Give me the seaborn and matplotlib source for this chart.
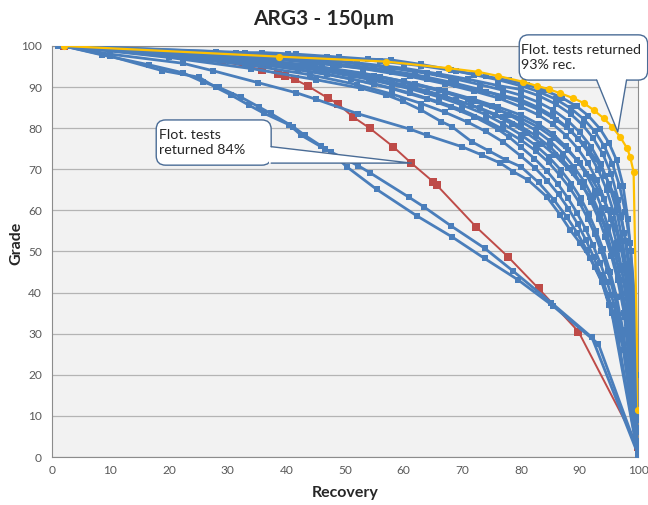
import matplotlib
matplotlib.use('Agg')
import matplotlib.pyplot as plt
import seaborn as sns
import pandas as pd
from matplotlib.patches import FancyBboxPatch, Polygon

# recovery / grade points for each flotation test
test_la = [(2,100),(8.6,97.8),(16.6,95.4),(22.3,93.5),(25.7,91.3),(28.5,89.9),(32.3,87.5),(35.4,85.1),(37.3,83.6),(41.1,80.4),(43.1,78.3),(45.9,75.7),(47.6,74.1),(50.3,70.6),(55.4,65.1),(62.2,58.7),(68.3,53.5),(73.8,48.3),(79.5,43.1),(85.5,36.7),(93.2,27.5),(100,1)]
test_lb = [(2,100),(10,97.5),(18.8,94),(25.1,92.4),(28,89.9),(30.5,88.1),(33.6,85.6),(36.2,83.6),(40.5,80.8),(42.5,78.3),(46.5,75),(52.2,70.9),(54.2,69.2),(60.9,63.2),(63.4,60.9),(68,56.3),(73.8,50.8),(78.6,45.3),(85.2,37.5),(92.1,29.1),(100,0.5)]
test_m1 = [(2,100),(10,98),(22.3,95.8),(27.4,94),(35.1,91.1),(41.7,88.6),(45.1,87),(52.2,83.5),(61,79.8),(63.9,78.3),(69.9,75.5),(73.3,73.5),(76.5,71.5),(78.7,69.4),(81.2,67.4),(84.4,63.3),(86.7,58.9),(88.4,55.2),(90.1,52),(91.8,48.3),(93.8,42.7),(95.5,35),(100,0)]
test_m2 = [(2,100),(20,97.2),(34,94.5),(45,91.8),(52.8,89.7),(57,88.1),(59.9,86.5),(63,84.4),(66.4,81.6),(68.2,80.4),(71.6,76.7),(74.5,74.5),(77.5,72.2),(80,70.6),(83,66.8),(85.6,62.6),(87.8,58.4),(89.6,54.5),(91.2,50.4),(92.6,46.2),(93.8,42.5),(95,37),(96.3,31),(100,0)]
test_b00 = [(2,100),(28,98.6),(31.4,98.2),(35.9,98.4),(40.2,98.1),(41.7,98),(49,97.3),(53.9,96.8),(57.9,96.6),(63,95.5),(68,94.2),(72,93),(76,91.8),(80,90.3),(83,88.9),(86,87),(88.5,84.8),(90.7,82.2),(92.6,79.2),(94.2,75.6),(95.6,71.3),(96.8,66),(97.8,59.5),(98.6,52),(99.3,40),(100,10)]
test_b01 = [(3,100),(33,98.4),(47,97.3),(56,96.3),(63,95.2),(69,93.9),(74,92.6),(78,91.6),(81,90.6),(84,89.2),(87,87.4),(89.5,85.3),(91.5,83),(93.5,79.8),(95,76.4),(96.3,72.2),(97.4,66),(98.2,58),(98.7,50),(99.3,38),(100,9)]
test_b02 = [(2,100),(28,98.3),(42,97.2),(52,95.9),(60,94.6),(66,93.2),(71,91.9),(76,90.4),(80,89.4),(83,87.9),(86,85.8),(88.5,83.4),(90.5,80.8),(92.3,77.6),(94,73.6),(95.4,68.8),(96.6,62.5),(97.6,54.5),(98.3,47),(99.2,32),(100,6)]
test_b03 = [(4,100),(36,97.6),(48,96.3),(57,94.8),(64,93.3),(69,91.9),(73,90.6),(77,89.2),(80,88),(83,86.3),(85.5,84.4),(88,81.8),(90,79),(92,75.4),(93.6,71.3),(95,66.4),(96.3,60),(97.3,52.5),(98.1,45),(99,30),(100,4)]
test_b04 = [(2,100),(25,98),(38,96.8),(49,95.3),(58,93.6),(64,92),(69,90.5),(74,88.9),(77,87.9),(80,86.9),(83,85),(85.5,82.9),(87.8,80.3),(89.8,77.3),(91.6,73.9),(93.2,69.8),(94.6,65),(95.8,59.5),(96.8,53),(97.6,46.5),(98.5,36),(100,3)]
test_b05 = [(3,100),(30,97.7),(43,96.2),(53,94.5),(61,92.6),(67,90.8),(72,89),(76,87.4),(80,85.2),(83,83.2),(85.5,80.9),(87.7,78.2),(89.7,75),(91.4,71.5),(92.9,67.5),(94.2,62.8),(95.3,57.8),(96.3,52),(97.2,45.5),(98.3,35),(100,2)]
test_b06 = [(2,100),(22,97.9),(35,96.6),(46,94.8),(55,92.8),(62,90.8),(67,89),(72,87),(76,85.2),(80,83.2),(83,81),(85.5,78.5),(87.6,75.6),(89.5,72.3),(91.1,68.8),(92.6,64.8),(93.8,60.5),(94.9,56),(96,50),(97,43),(98.2,33),(100,1)]
test_b07 = [(4,100),(32,97.1),(44,95.3),(53,93.4),(60,91.4),(66,89.3),(71,87.2),(75,85.3),(78,83.2),(80,81.6),(82.5,79.5),(85,76.8),(87.2,73.8),(89,70.6),(90.8,67),(92.2,63.2),(93.5,59),(94.6,54.5),(95.6,49.5),(96.6,43.5),(97.8,34),(100,0.5)]
test_b08 = [(2,100),(27,97.2),(40,95.4),(50,93.3),(58,91.1),(64,88.9),(69,86.8),(73,84.9),(77,82.6),(80,80.4),(82.5,78.2),(85,75.4),(87,72.5),(89,69.2),(90.6,65.8),(92,62),(93.3,57.8),(94.4,53.5),(95.4,49),(96.5,43),(97.6,35),(100,0)]
test_b09 = [(3,100),(35,96.1),(46,94),(54,91.9),(61,89.6),(66,87.6),(70,85.6),(74,83.3),(77,81),(80,78.4),(82.5,75.8),(84.8,72.9),(86.8,69.8),(88.6,66.5),(90.2,62.9),(91.6,59),(92.8,55),(94,50.5),(95.2,45),(96.3,39),(97.5,30),(100,0)]
test_b10 = [(2,100),(24,97.3),(37,95.3),(47,93.1),(55,90.8),(61,88.6),(66,86.4),(70,84.4),(74,81.9),(77,79.7),(80,77.1),(82.5,74.5),(84.7,71.7),(86.6,68.6),(88.4,65.3),(90,61.8),(91.4,58),(92.6,54.2),(93.7,50),(94.8,45.2),(95.9,39.5),(97.2,31),(100,0)]
test_b11 = [(4,100),(30,96.5),(42,94.3),(51,92),(58,89.6),(64,87.1),(68,85.1),(72,82.8),(76,79.8),(78,77.8),(80,75.4),(82.3,72.6),(84.4,69.6),(86.3,66.4),(88,63),(89.6,59.3),(91,55.5),(92.3,51.5),(93.5,47.2),(94.7,42.5),(95.9,37),(97.2,29),(100,0)]
test_b12 = [(2,100),(20,97.4),(33,95.5),(44,93),(52,90.6),(58,88.3),(63,86),(67,83.9),(71,81.4),(74,79.2),(77,76.6),(80,73.2),(82.4,70.3),(84.5,67.2),(86.4,63.9),(88.1,60.4),(89.7,56.6),(91.1,52.7),(92.4,48.6),(93.6,44.2),(94.8,39.5),(96,34),(97.5,26),(100,0)]
test_b13 = [(1,100),(30,97.8),(45,96.2),(55,94.6),(62,93),(68,91.2),(73,89.4),(77,87.7),(80,86.3),(83,84.5),(86,82),(88.5,79.3),(90.7,76.2),(92.7,72.6),(94.4,68.4),(95.8,64),(97,58.5),(97.9,52.5),(98.6,46),(99.2,35),(99.7,20),(100,7)]
test_b14 = [(3,100),(26,97.6),(38,96.1),(48,94.3),(56,92.4),(62,90.6),(67,88.7),(72,86.5),(76,84.5),(80,82.4),(83,80.2),(85.6,77.6),(88,74.6),(90,71.5),(91.9,68),(93.5,64.3),(94.9,60.2),(96.1,55.7),(97.1,50.7),(98,45),(98.8,37),(99.5,24),(100,4)]
test_b15 = [(2,100),(33,96.6),(45,94.5),(54,92.4),(61,90.2),(67,87.8),(71.5,85.6),(75.5,83.2),(78.5,81),(81,78.8),(83.5,76.2),(85.8,73.4),(88,70.2),(90,66.8),(91.8,63.2),(93.4,59.3),(94.8,55.3),(96,51),(97,46.5),(98,40),(99,30),(100,2)]

test_red = [(2,100),(29,96.3),(35.9,94.2),(38.5,93.2),(39.7,92.7),(41.4,91.9),(43.6,90.3),(47.1,87.3),(48.8,85.9),(51.3,82.8),(54.2,80),(58.2,75.5),(61.3,71.5),(65,67),(65.6,66.2),(72.4,55.9),(77.8,48.7),(83,41),(89.8,30.5),(100,2.5)]
test_yellow = [(2,100),(38.8,97.4),(57,96.2),(67.6,94.6),(72.7,93.7),(76.1,92.7),(80.3,91.3),(82.7,90.3),(84.7,89.5),(86.7,88.5),(88.9,87.3),(90.7,86.1),(92.4,84.4),(94.1,82.4),(95.5,80.4),(96.9,77.9),(98.1,75.1),(98.6,73.1),(99.2,69.4),(100,11.4)]

blue_tests = {'la': test_la, 'lb': test_lb, 'm1': test_m1, 'm2': test_m2,
              'b00': test_b00, 'b01': test_b01, 'b02': test_b02, 'b03': test_b03,
              'b04': test_b04, 'b05': test_b05, 'b06': test_b06, 'b07': test_b07,
              'b08': test_b08, 'b09': test_b09, 'b10': test_b10, 'b11': test_b11,
              'b12': test_b12, 'b13': test_b13, 'b14': test_b14, 'b15': test_b15}

def to_frame(tests):
    rows = []
    for name, pts in tests.items():
        for i, (r, g) in enumerate(pts):
            rows.append({'test': name, 'order': i, 'Recovery': r, 'Grade': g})
    return pd.DataFrame(rows)

df_blue = to_frame(blue_tests)
df_red = to_frame({'red': test_red})
df_yel = to_frame({'yellow': test_yellow})

sns.set_theme(style='white', rc={'axes.facecolor': '#F2F2F2'})
plt.rcParams['font.family'] = ['Lato', 'DejaVu Sans']

fig = plt.figure(figsize=(6.48, 5.05), dpi=100)
ax = fig.add_axes([0.080, 0.095, 0.905, 0.814])

blue = '#4A7EBB'
# red first so the blue bundle covers its top part, like the original
sns.lineplot(data=df_red, x='Recovery', y='Grade', units='test', estimator=None, sort=False,
             color='#BE4B48', lw=1.4, marker='s', markersize=5.4, markeredgewidth=0, ax=ax, zorder=3)
sns.lineplot(data=df_blue, x='Recovery', y='Grade', units='test', estimator=None, sort=False,
             color=blue, lw=2.0, marker='s', markersize=5.0, markeredgewidth=0, ax=ax, zorder=3.5)
sns.lineplot(data=df_yel, x='Recovery', y='Grade', units='test', estimator=None, sort=False,
             color='#FFC000', lw=1.6, marker='o', markersize=5.2, markeredgewidth=0, ax=ax, zorder=4)

ax.set_xlim(0, 100)
ax.set_ylim(0, 100)
ax.set_xticks(range(0, 101, 10))
ax.set_yticks(range(0, 101, 10))
ax.yaxis.grid(True, color='#B4B4B4', lw=0.9)
ax.set_axisbelow(True)
ax.tick_params(axis='x', direction='in', length=3, color='#A0A0A0', labelsize=8.6, labelcolor='#595959', pad=6)
ax.tick_params(axis='y', length=0, labelsize=8.6, labelcolor='#595959', pad=7)
for s in ax.spines.values():
    s.set_color('#8C8C8C')
    s.set_linewidth(0.8)

ax.set_xlabel('Recovery', fontsize=11.5, fontweight='bold', labelpad=7)
ax.set_ylabel('Grade', fontsize=11.5, fontweight='bold')
ax.yaxis.set_label_coords(-0.048, 0.52)
fig.text(0.5, 0.962, 'ARG3 - 150µm', ha='center', va='center', fontsize=15, fontweight='bold')

# callouts
edge = '#4A6C96'
asp = 5.85 / 4.11

box1 = FancyBboxPatch((17.8, 71.0), 19.6, 11.0, boxstyle='round,pad=0,rounding_size=1.6',
                      mutation_aspect=asp, fc='white', ec=edge, lw=1.0, zorder=6, clip_on=False)
ax.add_patch(box1)
ax.add_patch(Polygon([(37.0, 75.5), (37.0, 71.5), (61.3, 71.5)], closed=True, fc='white', ec='none',
                     zorder=6.5, clip_on=False))
ax.plot([37.4, 61.3, 37.4], [75.5, 71.5, 71.5], color=edge, lw=1.0, zorder=6.6, clip_on=False)
ax.text(18.3, 76.6, 'Flot. tests\nreturned 84%', ha='left', va='center', fontsize=10.3,
        linespacing=1.3, color='#262626', zorder=7)

box2 = FancyBboxPatch((79.7, 91.7), 21.9, 11.0, boxstyle='round,pad=0,rounding_size=1.6',
                      mutation_aspect=asp, fc='white', ec=edge, lw=1.0, zorder=6, clip_on=False)
ax.add_patch(box2)
ax.add_patch(Polygon([(92.9, 92.1), (98.0, 92.1), (96.5, 79.1)], closed=True, fc='white', ec='none',
                     zorder=6.5, clip_on=False))
ax.plot([92.9, 96.5, 98.0], [91.7, 79.1, 91.7], color=edge, lw=1.0, zorder=6.6, clip_on=False)
ax.text(80.0, 97.3, 'Flot. tests returned\n93% rec.', ha='left', va='center', fontsize=10.3,
        linespacing=1.3, color='#262626', zorder=7, clip_on=False)

fig.savefig('out.png', dpi=100)
